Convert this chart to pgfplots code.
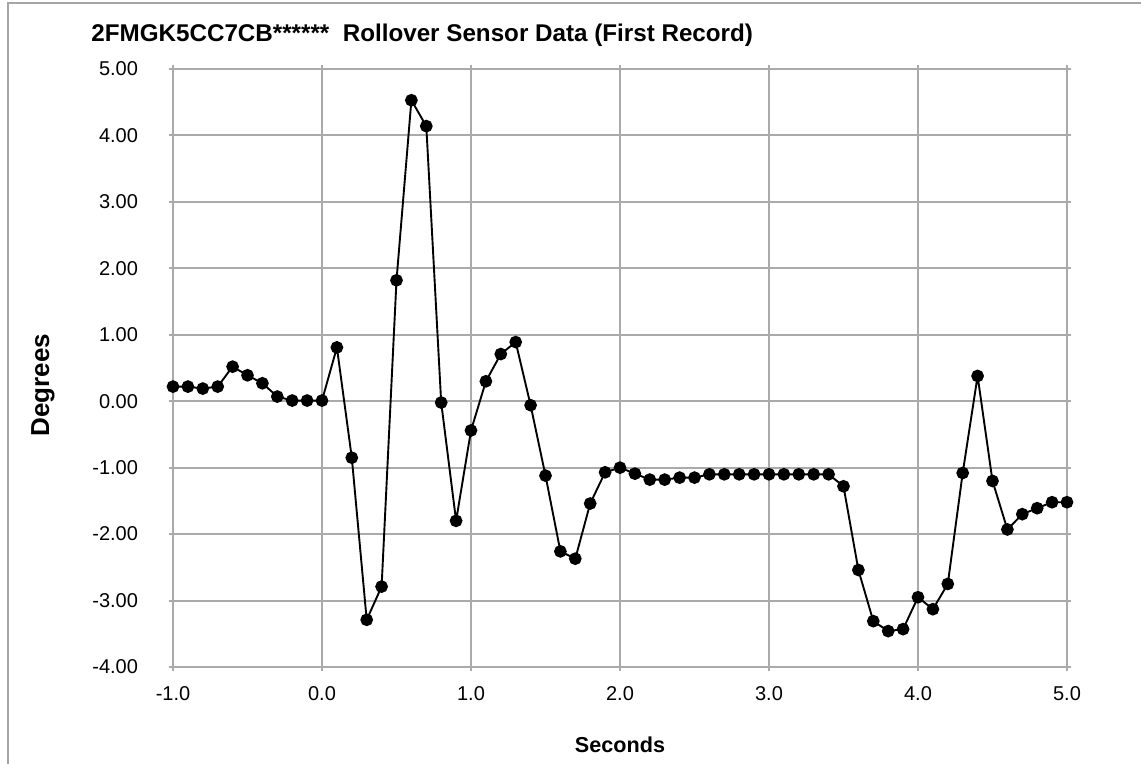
\documentclass[border=0pt]{standalone}
\usepackage{pgfplots}
\pgfplotsset{compat=1.18}
\usepackage{fontspec}
\setmainfont{Liberation Sans}
\definecolor{gridgray}{RGB}{170,170,170}
\definecolor{framegray}{RGB}{165,165,165}
\pgfplotstableread{
x y
-1.0 0.22
-0.9 0.22
-0.8 0.19
-0.7 0.22
-0.6 0.52
-0.5 0.39
-0.4 0.27
-0.3 0.07
-0.2 0.01
-0.1 0.01
0.0 0.01
0.1 0.81
0.2 -0.85
0.3 -3.29
0.4 -2.79
0.5 1.82
0.6 4.53
0.7 4.14
0.8 -0.02
0.9 -1.80
1.0 -0.44
1.1 0.30
1.2 0.71
1.3 0.89
1.4 -0.06
1.5 -1.12
1.6 -2.26
1.7 -2.37
1.8 -1.54
1.9 -1.07
2.0 -1.00
2.1 -1.09
2.2 -1.18
2.3 -1.18
2.4 -1.15
2.5 -1.15
2.6 -1.10
2.7 -1.10
2.8 -1.10
2.9 -1.10
3.0 -1.10
3.1 -1.10
3.2 -1.10
3.3 -1.10
3.4 -1.10
3.5 -1.28
3.6 -2.54
3.7 -3.31
3.8 -3.46
3.9 -3.43
4.0 -2.95
4.1 -3.13
4.2 -2.75
4.3 -1.08
4.4 0.38
4.5 -1.20
4.6 -1.93
4.7 -1.70
4.8 -1.61
4.9 -1.52
5.0 -1.52
}\datatable
\begin{document}
\begin{tikzpicture}
\useasboundingbox (0,0) rectangle (570.5pt,382pt);
\draw[framegray, line width=1.1pt] (4pt,0) -- (4pt,380.5pt) -- (570.5pt,380.5pt);
\begin{axis}[
  at={(86.5pt,48.5pt)}, anchor=south west,
  scale only axis, width=447pt, height=299pt,
  xmin=-1, xmax=5, ymin=-4, ymax=5,
  xtick={-1,0,1,2,3,4,5}, ytick={-4,-3,-2,-1,0,1,2,3,4,5},
  grid=major, grid style={gridgray, line width=1pt},
  axis line style={gridgray, line width=1pt},
  tick style={gridgray, line width=1pt}, tick align=outside, major tick length=2pt,
  /pgf/number format/assume math mode=true,
  xticklabel style={font=\fontsize{10}{12}\selectfont, /pgf/number format/.cd, fixed, fixed zerofill, precision=1},
  yticklabel style={font=\fontsize{10}{12}\selectfont, xshift=-12pt, /pgf/number format/.cd, fixed, fixed zerofill, precision=2},
  xticklabel shift=4pt,
  every axis title shift=0pt,
  title={2FMGK5CC7CB******\ \ Rollover Sensor Data (First Record)},
  title style={font=\bfseries\fontsize{12.1}{14}\selectfont, inner sep=0pt, at={(axis description cs:-0.0917,1.046)}, anchor=base west},
  xlabel={Seconds},
  xlabel style={font=\bfseries\fontsize{10.8}{13}\selectfont, at={(axis description cs:0.5,-0.1304)}, anchor=center},
  ylabel={Degrees},
  ylabel style={font=\bfseries\fontsize{13}{15}\selectfont, at={(axis description cs:-0.1454,0.4716)}, anchor=center, rotate=0},
]
\addplot[black, line width=0.95pt, mark=*, mark size=2.7pt, mark options={fill=black}] table[x=x,y=y] {\datatable};
\end{axis}
\end{tikzpicture}
\end{document}
